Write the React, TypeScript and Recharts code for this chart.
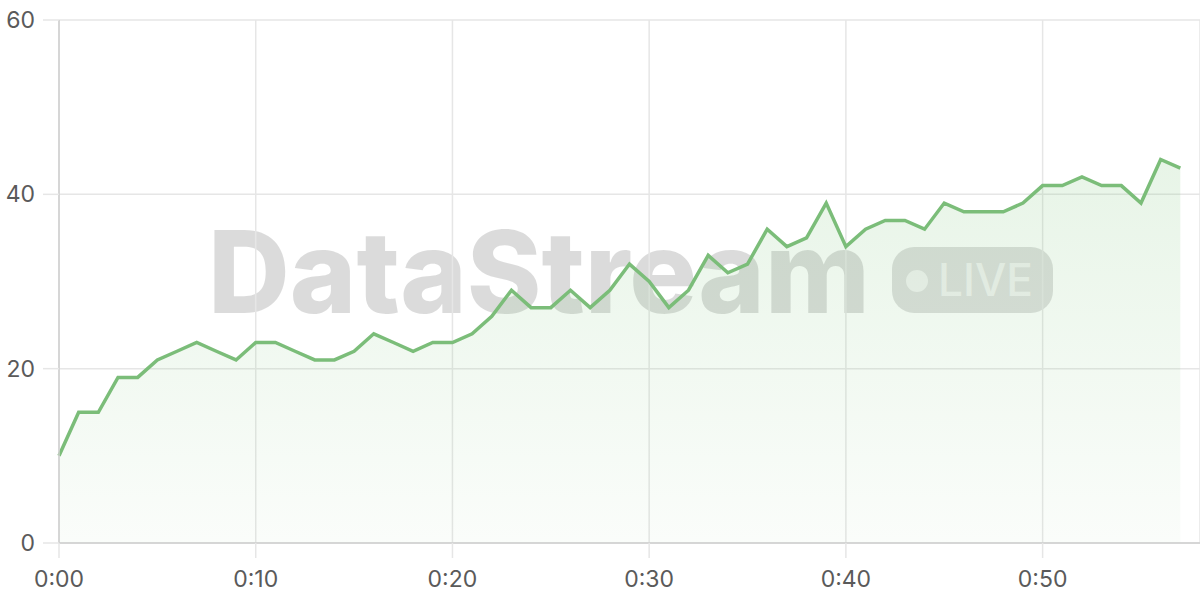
import { ComposedChart, Area, XAxis, YAxis, CartesianGrid } from "recharts";

// one reading per minute, starting at 0:00
const values = [
  10, 15, 15, 19, 19, 21, 22, 23, 22, 21,
  23, 23, 22, 21, 21, 22, 24, 23, 22, 23,
  23, 24, 26, 29, 27, 27, 29, 27, 29, 32,
  30, 27, 29, 33, 31, 32, 36, 34, 35, 39,
  34, 36, 37, 37, 36, 39, 38, 38, 38, 39,
  41, 41, 42, 41, 41, 39, 44, 43,
];
const xTicks = [0, 10, 20, 30, 40, 50];
const xTickLabels = ["0:00", "0:10", "0:20", "0:30", "0:40", "0:50"];
const yTicks = [0, 20, 40, 60];

const data = values.map((v, i) => ({ t: i, value: v }));

const FONT = "Inter, 'Liberation Sans', Arial, sans-serif";
const GRID = "#e6e6e6";
const AXIS = "#cfcfcf";
const LABEL = "#5a5a5a";
const GREEN = "#7bbd79";

function Watermark() {
  return (
    <svg width={1200} height={600} style={{ position: "absolute", left: 0, top: 0, zIndex: 0 }}>
      <text
        x={208}
        y={313}
        fontFamily="Inter, 'Liberation Sans', sans-serif"
        fontWeight={800}
        fontSize={114}
        textLength={662}
        lengthAdjust="spacingAndGlyphs"
        fill="rgba(0,0,0,0.14)"
      >
        DataStream
      </text>
      <rect x={892} y={247} width={161} height={66} rx={22} fill="rgba(0,0,0,0.13)" />
      <circle cx={917} cy={281} r={11} fill="rgba(255,255,255,0.6)" />
      <text
        x={938}
        y={296}
        fontFamily="Inter, 'Liberation Sans', sans-serif"
        fontWeight={500}
        fontSize={45}
        textLength={95}
        lengthAdjust="spacingAndGlyphs"
        fill="rgba(255,255,255,0.6)"
      >
        LIVE
      </text>
    </svg>
  );
}

export default function App() {
  return (
    <div style={{ position: "absolute", left: 0, top: 0, width: 1200, height: 600, background: "#fff" }}>
      <Watermark />
      <div style={{ position: "absolute", left: 0, top: 0, zIndex: 1 }}>
        <ComposedChart width={1200} height={600} data={data} margin={{ top: 20, right: 0, left: 0, bottom: 0 }}>
          <defs>
            <linearGradient id="fillGreen" x1="0" y1="0" x2="0" y2="1">
              <stop offset="0%" stopColor="#7cc47a" stopOpacity={0.3} />
              <stop offset="100%" stopColor="#7cc47a" stopOpacity={0.06} />
            </linearGradient>
          </defs>
          <CartesianGrid stroke={GRID} strokeWidth={1.5} />
          <XAxis
            dataKey="t"
            type="number"
            domain={[0, 58]}
            ticks={xTicks}
            tickFormatter={(v) => xTickLabels[xTicks.indexOf(v)] ?? ""}
            height={57}
            tickSize={15}
            tickMargin={13}
            tickLine={{ stroke: GRID, strokeWidth: 1.5 }}
            axisLine={{ stroke: AXIS, strokeWidth: 1.5 }}
            tick={{ fontFamily: FONT, fontSize: 23, fill: LABEL }}
          />
          <YAxis
            type="number"
            domain={[0, 60]}
            ticks={yTicks}
            width={59}
            tickSize={16}
            tickMargin={8}
            tickLine={{ stroke: GRID, strokeWidth: 1.5 }}
            axisLine={{ stroke: AXIS, strokeWidth: 1.5 }}
            tick={{ fontFamily: FONT, fontSize: 23, fill: LABEL }}
          />
          <Area
            type="linear"
            dataKey="value"
            stroke={GREEN}
            strokeWidth={3.5}
            fill="url(#fillGreen)"
            dot={false}
            activeDot={false}
            isAnimationActive={false}
          />
        </ComposedChart>
      </div>
    </div>
  );
}
